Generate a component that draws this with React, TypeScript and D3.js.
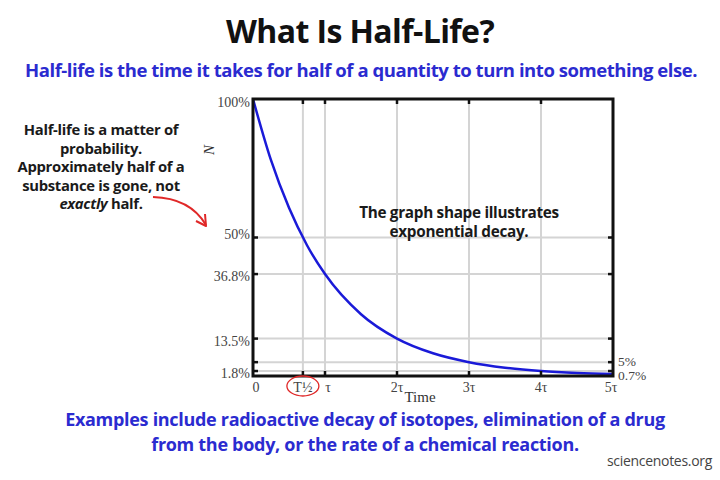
import React from "react";
import * as d3 from "d3";

// Time axis in units of tau; N as percent of the starting quantity.
const decayTimes = [0, 0.25, 0.5, 0.75, 1, 1.5, 2, 2.5, 3, 3.5, 4, 4.5, 5];
const decayValues = [100, 77.9, 60.7, 47.2, 36.8, 22.3, 13.5, 8.2, 5.0, 3.0, 1.8, 1.1, 0.7];

const xTickValues = [0, 0.693, 1, 2, 3, 4, 5];
const xTickLabels = ["0", "T½", "τ", "2τ", "3τ", "4τ", "5τ"];
const xGridValues = [0.693, 1, 2, 3, 4];

const yTickValues = [100, 50, 36.8, 13.5, 1.8];
const yTickLabels = ["100%", "50%", "36.8%", "13.5%", "1.8%"];
const yGridValues = [50, 36.8, 13.5, 5, 1.8];
const yRightValues = [5, 0.7];
const yRightLabels = ["5%", "0.7%"];

const leftNote = ["Half-life is a matter of", "probability.", "Approximately half of a", "substance is gone, not"];
const midNote = ["The graph shape illustrates", "exponential decay."];
const bottomNote = [
  "Examples include radioactive decay of isotopes, elimination of a drug",
  "from the body, or the rate of a chemical reaction.",
];

const W = 720;
const H = 480;
const plot = { left: 253, right: 613, top: 99, bottom: 376 };
const SANS = "'Open Sans', Roboto, sans-serif";
const SERIF = "'Liberation Serif', 'DejaVu Serif', serif";
const BLUE = "#2b2bd0";
const CURVE = "#1a1ad8";
const RED = "#e02828";

export default function App() {
  const x = d3.scaleLinear().domain([0, 5]).range([plot.left, plot.right]);
  const y = d3.scaleLinear().domain([0, 100]).range([plot.bottom, plot.top]);

  const line = d3
    .line<number>()
    .x((_, i) => x(decayTimes[i]))
    .y((d) => y(d))
    .curve(d3.curveMonotoneX);

  const tick = 5;
  // small per-label nudges so labels sit where the tick text usually goes
  const yLabelShift = (v: number) => (v === 100 ? 8 : v === 50 ? 1 : 7);

  return (
    <svg width={W} height={H} style={{ position: "fixed", left: 0, top: 0, background: "#fff" }}>
      <rect width={W} height={H} fill="#fff" />

      {/* headings */}
      <text x={360} y={43} textAnchor="middle" fontFamily={SANS} fontWeight={700} fontSize={32} fill="#111" letterSpacing={-0.6}>
        What Is Half-Life?
      </text>
      <text x={361} y={77} textAnchor="middle" fontFamily={SANS} fontWeight={700} fontSize={18.5} fill={BLUE} letterSpacing={-0.45}>
        Half-life is the time it takes for half of a quantity to turn into something else.
      </text>

      {/* grid */}
      {xGridValues.map((v) => (
        <line key={`gx${v}`} x1={x(v)} x2={x(v)} y1={plot.top} y2={plot.bottom} stroke="#d4d4d4" strokeWidth={2} />
      ))}
      {yGridValues.map((v) => (
        <line key={`gy${v}`} x1={plot.left} x2={plot.right} y1={y(v)} y2={y(v)} stroke="#d4d4d4" strokeWidth={2} />
      ))}

      {/* decay curve */}
      <path d={line(decayValues) ?? ""} fill="none" stroke={CURVE} strokeWidth={2.5} />

      {/* inward ticks on all four sides */}
      {xGridValues.map((v) => (
        <g key={`tx${v}`} stroke="#111" strokeWidth={2.5}>
          <line x1={x(v)} x2={x(v)} y1={plot.bottom} y2={plot.bottom - tick} />
          <line x1={x(v)} x2={x(v)} y1={plot.top} y2={plot.top + tick} />
        </g>
      ))}
      {yGridValues.map((v) => (
        <g key={`ty${v}`} stroke="#111" strokeWidth={2.5}>
          <line x1={plot.left} x2={plot.left + tick} y1={y(v)} y2={y(v)} />
          <line x1={plot.right} x2={plot.right - tick} y1={y(v)} y2={y(v)} />
        </g>
      ))}

      {/* frame */}
      <rect x={plot.left} y={plot.top} width={plot.right - plot.left} height={plot.bottom - plot.top} fill="none" stroke="#111" strokeWidth={3} />

      {/* y tick labels */}
      {yTickValues.map((v, i) => (
        <text key={`yl${v}`} x={plot.left - 3} y={y(v) + yLabelShift(v)} textAnchor="end" fontFamily={SERIF} fontSize={14} fill="#444">
          {yTickLabels[i]}
        </text>
      ))}
      {yRightValues.map((v, i) => (
        <text key={`yr${v}`} x={plot.right + 5} y={y(v) + (i === 0 ? 4 : 6)} fontFamily={SERIF} fontSize={13.5} fill="#444">
          {yRightLabels[i]}
        </text>
      ))}

      {/* x tick labels */}
      {xTickValues.map((v, i) => (
        <text key={`xl${v}`} x={x(v) + (i === 0 ? 3 : i === 2 ? 3 : i === 6 ? -2 : 0)} y={plot.bottom + 16} textAnchor="middle" fontFamily={SERIF} fontSize={14} fill="#444">
          {xTickLabels[i]}
        </text>
      ))}
      <ellipse cx={x(0.693)} cy={plot.bottom + 10} rx={16} ry={10} fill="none" stroke={RED} strokeWidth={1.3} />

      {/* axis titles */}
      <text x={420} y={plot.bottom + 26} textAnchor="middle" fontFamily={SERIF} fontSize={15} fill="#333">
        Time
      </text>
      <text transform={`translate(214,${150}) rotate(-90)`} textAnchor="middle" fontFamily={SERIF} fontStyle="italic" fontSize={15} fill="#333">
        N
      </text>

      {/* left note with arrow */}
      <g fontFamily={SANS} fontWeight={700} fontSize={14.8} fill="#1a1a1a" textAnchor="middle" letterSpacing={-0.3}>
        {leftNote.map((t, i) => (
          <text key={t} x={101} y={135 + i * 18.5}>
            {t}
          </text>
        ))}
        <text x={101} y={135 + 4 * 18.5}>
          <tspan fontStyle="italic">exactly</tspan> half.
        </text>
      </g>
      <path d="M153,197 Q190,198 206,225" fill="none" stroke={RED} strokeWidth={2} />
      <path d="M196,221 L206,226 L205,214" fill="none" stroke={RED} strokeWidth={2} strokeLinejoin="round" />

      {/* middle note */}
      <g fontFamily={SANS} fontWeight={700} fontSize={15.3} fill="#1a1a1a" textAnchor="middle" letterSpacing={-0.3}>
        {midNote.map((t, i) => (
          <text key={t} x={459} y={218 + i * 19}>
            {t}
          </text>
        ))}
      </g>

      {/* bottom note */}
      <g fontFamily={SANS} fontWeight={700} fontSize={18} fill={BLUE} textAnchor="middle" letterSpacing={-0.3}>
        {bottomNote.map((t, i) => (
          <text key={t} x={365} y={426 + i * 25}>
            {t}
          </text>
        ))}
      </g>
      <text x={712} y={466} textAnchor="end" fontFamily={SANS} fontSize={14} fill="#444" letterSpacing={-0.3}>
        sciencenotes.org
      </text>
    </svg>
  );
}
